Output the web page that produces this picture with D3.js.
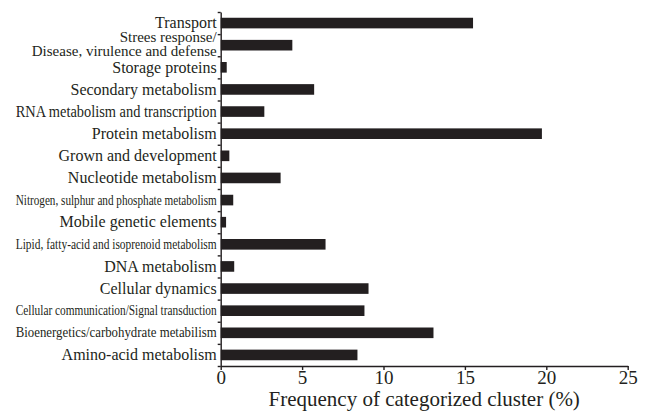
<!DOCTYPE html>
<html>
<head>
<meta charset="utf-8">
<script src="https://cdn.jsdelivr.net/npm/d3@7"></script>
<style>
  body { margin: 0; background: #fff; }
  svg { display: block; }
  .axis path, .axis line { stroke: #231f20; stroke-width: 1.4px; }
</style>
</head>
<body>
<svg id="chart" width="645" height="416"></svg>
<script>
// categories top to bottom, "\n" splits a label onto two lines
const categories = [
  'Transport',
  'Strees response/\nDisease, virulence and defense',
  'Storage proteins',
  'Secondary metabolism',
  'RNA metabolism and transcription',
  'Protein metabolism',
  'Grown and development',
  'Nucleotide metabolism',
  'Nitrogen, sulphur and phosphate metabolism',
  'Mobile genetic elements',
  'Lipid, fatty-acid and isoprenoid metabolism',
  'DNA metabolism',
  'Cellular dynamics',
  'Cellular communication/Signal transduction',
  'Bioenergetics/carbohydrate metabilism',
  'Amino-acid metabolism',
];
const frequency = [15.5, 4.4, 0.37, 5.74, 2.68, 19.73, 0.53, 3.68, 0.77, 0.33, 6.44, 0.83, 9.08, 8.83, 13.07, 8.4];
const xTicks = [0, 5, 10, 15, 20, 25];
const xTitle = 'Frequency of categorized cluster (%)';

const FONT = '"Liberation Serif", "Times New Roman", serif';
const INK = '#231f20';

const svg = d3.select('#chart');
const plotL = 220.7, plotR = 627.7, plotT = 12, plotB = 366;

const x = d3.scaleLinear().domain([0, 25]).range([plotL, plotR]);
const y = d3.scaleBand().domain(categories).range([plotT, plotB])
  .paddingInner(0.52).paddingOuter(0.26);
const edges = d3.scaleLinear().domain([0, categories.length]).range([plotT, plotB]);

svg.append('g')
  .selectAll('rect')
  .data(categories)
  .join('rect')
  .attr('x', x(0))
  .attr('y', d => y(d))
  .attr('width', (d, i) => x(frequency[i]) - x(0))
  .attr('height', y.bandwidth())
  .attr('fill', INK);

// y axis: ticks on band edges, labels drawn by hand
svg.append('g')
  .attr('class', 'axis')
  .attr('transform', `translate(${plotL},0)`)
  .call(d3.axisLeft(edges).tickValues(d3.range(categories.length + 1))
    .tickSize(3).tickSizeOuter(0).tickFormat(''));

// long labels are squeezed into the same width, like the original
const maxLabel = 201;
const labels = svg.append('g');
categories.forEach(c => {
  const lines = c.split('\n');
  const cy = y(c) + y.bandwidth() / 2 - (lines.length > 1 ? 1.5 : 0);
  lines.forEach((ln, j) => {
    const t = labels.append('text')
      .attr('x', plotL - 4)
      .attr('y', cy + (j - (lines.length - 1) / 2) * 14)
      .attr('dy', '0.33em')
      .attr('text-anchor', 'end')
      .style('font-family', FONT)
      .style('font-size', lines.length > 1 ? '15px' : '16px')
      .style('fill', INK)
      .text(ln);
    const w = t.node().getComputedTextLength();
    if (lines.length === 1 && w > 230) {
      t.style('font-size', '14px')
        .attr('textLength', maxLabel)
        .attr('lengthAdjust', 'spacingAndGlyphs');
    } else if (w > maxLabel) {
      t.attr('textLength', maxLabel).attr('lengthAdjust', 'spacingAndGlyphs');
    }
  });
});

const xa = svg.append('g')
  .attr('class', 'axis')
  .attr('transform', `translate(0,${plotB})`)
  .call(d3.axisBottom(x).tickValues(xTicks).tickSize(4).tickSizeOuter(0).tickPadding(1));
xa.selectAll('text')
  .style('font-family', FONT)
  .style('font-size', '19px')
  .style('fill', INK);

svg.append('text')
  .attr('x', (plotL + plotR) / 2)
  .attr('y', 406)
  .attr('text-anchor', 'middle')
  .style('font-family', FONT)
  .style('font-size', '21px')
  .style('fill', INK)
  .text(xTitle);
</script>
</body>
</html>
